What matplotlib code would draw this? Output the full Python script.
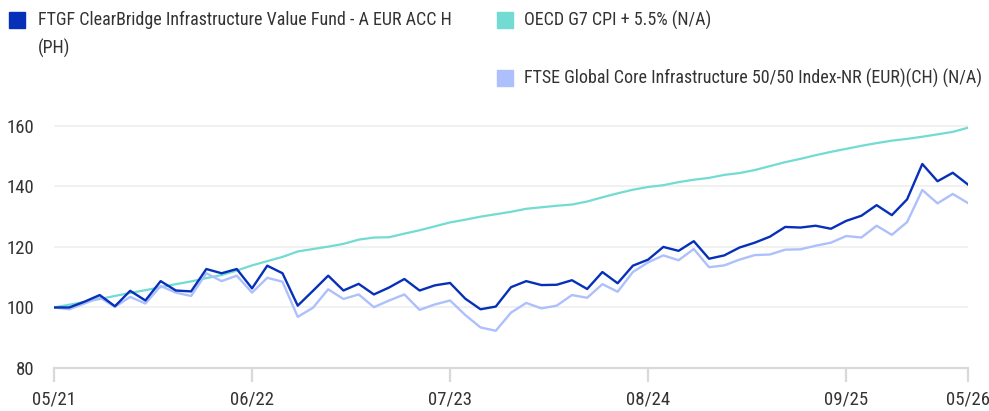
import numpy as np
import pandas as pd
import matplotlib
matplotlib.use('Agg')
import matplotlib.pyplot as plt
from matplotlib.patches import Rectangle

plt.rcParams['font.family'] = ['Roboto Condensed', 'Roboto', 'DejaVu Sans']

# monthly values, 05/2021 .. 05/2026 (rebased to 100)
months = pd.date_range('2021-05-01', '2026-05-01', freq='MS')

fund = [100.0, 100.0, 101.9, 104.1, 100.4, 105.5, 102.3, 108.7, 105.6, 105.3,
        112.7, 111.3, 112.7, 106.3, 113.8, 111.3, 100.6, 105.5, 110.5, 105.6,
        107.8, 104.3, 106.6, 109.4, 105.6, 107.3, 108.1, 102.9, 99.4, 100.3,
        106.7, 108.7, 107.4, 107.5, 109.0, 106.1, 111.7, 108.0, 113.8, 115.8,
        120.0, 118.7, 121.9, 116.1, 117.2, 119.8, 121.4, 123.4, 126.6, 126.4,
        127.0, 126.0, 128.6, 130.3, 133.8, 130.5, 135.7, 147.4, 141.7, 144.5,
        140.6]

cpi = [100.0, 100.9, 101.8, 102.8, 103.8, 104.8, 105.7, 106.7, 107.7, 108.6,
       109.7, 110.7, 112.2, 113.9, 115.3, 116.7, 118.5, 119.3, 120.1, 121.0,
       122.4, 123.1, 123.2, 124.4, 125.5, 126.8, 128.1, 129.0, 130.0, 130.8,
       131.6, 132.6, 133.1, 133.6, 134.0, 135.0, 136.4, 137.7, 138.9, 139.8,
       140.4, 141.4, 142.2, 142.8, 143.8, 144.4, 145.4, 146.7, 148.0, 149.1,
       150.3, 151.4, 152.4, 153.4, 154.3, 155.1, 155.7, 156.4, 157.2, 158.0,
       159.4]

index = [100.0, 99.4, 101.3, 103.3, 100.2, 103.5, 101.3, 107.1, 104.9, 103.8,
         111.3, 108.7, 110.5, 104.9, 109.8, 108.5, 96.9, 99.9, 106.0, 102.8,
         104.3, 100.1, 102.3, 104.3, 99.2, 101.0, 102.3, 97.5, 93.4, 92.3,
         98.3, 101.5, 99.7, 100.6, 104.1, 103.2, 107.7, 105.2, 111.7, 114.9,
         117.2, 115.6, 119.3, 113.3, 113.9, 115.8, 117.3, 117.5, 119.1, 119.2,
         120.4, 121.4, 123.6, 123.1, 127.0, 124.0, 128.2, 138.8, 134.4, 137.5,
         134.5]

tick_pos = [0, 13, 26, 39, 52, 60]
tick_labels = [months[i].strftime('%m/%y') for i in tick_pos]
y_ticks = [80, 100, 120, 140, 160]

names = ['FTGF ClearBridge Infrastructure Value Fund - A EUR ACC H\n(PH)',
         'OECD G7 CPI + 5.5% (N/A)',
         'FTSE Global Core Infrastructure 50/50 Index-NR (EUR)(CH) (N/A)']
colors = ['#0630b8', '#72dbd2', '#aec0fb']

fig = plt.figure(figsize=(9.89, 4.11), dpi=100)
ax = fig.add_axes([54/989, 43/411, 914/989, 0.626])

x = np.arange(len(months))
ax.plot(x, cpi, color=colors[1], lw=1.6, zorder=3)
ax.plot(x, index, color=colors[2], lw=1.7, zorder=3)
ax.plot(x, fund, color=colors[0], lw=1.7, zorder=4)

ax.set_xlim(0, 60)
ax.set_ylim(80, 165)
ax.set_yticks(y_ticks)
ax.set_xticks(tick_pos)
ax.set_xticklabels(tick_labels)
ax.grid(axis='y', color='#f0f0f0', lw=1.3)
ax.set_axisbelow(True)
for s in ['top', 'right', 'left']:
    ax.spines[s].set_visible(False)
ax.spines['bottom'].set_color('#d9d9d9')
ax.spines['bottom'].set_linewidth(1.6)
ax.tick_params(axis='x', length=10, width=1.6, color='#d9d9d9',
               labelsize=13.5, labelcolor='#333333', pad=6)
ax.tick_params(axis='y', length=0, labelsize=13.5, labelcolor='#333333', pad=14)

# legend
leg = [(9, 12, 38, 20), (497, 12, 524, 20), (497, 70, 524, 78)]
for (sx, sy, tx, ty), name, c in zip(leg, names, colors):
    fig.patches.append(Rectangle((sx/989, 1 - (sy + 16)/411), 16/989, 16/411,
                                 transform=fig.transFigure, color=c))
    fig.text(tx/989, 1 - (ty - 9)/411, name, fontsize=13, color='#333333',
             va='top', ha='left', linespacing=1.65)

fig.savefig('out.png', dpi=100)
